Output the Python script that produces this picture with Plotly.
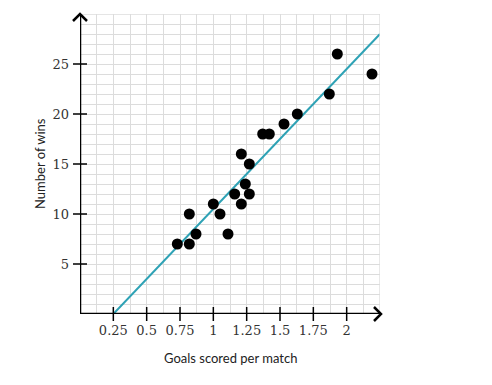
import numpy as np
import plotly.graph_objects as go

goals = [0.73, 0.82, 0.82, 0.87, 1.00, 1.05, 1.11, 1.16, 1.21, 1.24, 1.27, 1.27, 1.21,
         1.37, 1.42, 1.53, 1.63, 1.87, 1.93, 2.19]
wins = [7, 7, 10, 8, 11, 10, 8, 12, 11, 13, 12, 15, 16,
        18, 18, 19, 20, 22, 26, 24]
x_ticks = [0.25, 0.5, 0.75, 1, 1.25, 1.5, 1.75, 2]
x_tick_labels = ["0.25", "0.5", "0.75", "1", "1.25", "1.5", "1.75", "2"]
y_ticks = [5, 10, 15, 20, 25]
y_tick_labels = ["5", "10", "15", "20", "25"]
fit_slope = 14.0
fit_intercept = -3.5
fit_x_range = [0.25, 2.25]

X_MAX, Y_MAX = 2.25, 30
OFF = 8  # default page body margin
W, H = 492 - OFF, 385 - OFF
ML, MR, MT, MB = 80 - OFF, 112, 14 - OFF, 71

fx = np.array(fit_x_range)
fy = fit_slope * fx + fit_intercept

fig = go.Figure()
fig.add_trace(go.Scatter(x=fx, y=fy, mode="lines",
                         line=dict(color="#2ea2b5", width=2), hoverinfo="skip"))
fig.add_trace(go.Scatter(x=goals, y=wins, mode="markers",
                         marker=dict(color="black", size=11)))
# tick marks crossing axes
fig.add_trace(go.Scatter(x=x_ticks, y=[0]*len(x_ticks), mode="markers", cliponaxis=False,
                         marker=dict(symbol="line-ns", size=10, line=dict(color="black", width=1.5))))
fig.add_trace(go.Scatter(x=[0]*len(y_ticks), y=y_ticks, mode="markers", cliponaxis=False,
                         marker=dict(symbol="line-ew", size=10, line=dict(color="black", width=1.5))))

grid_col = "#dcdcdc"
fig.update_xaxes(range=[0, X_MAX], tickvals=x_ticks, ticktext=x_tick_labels,
                 showgrid=True, gridcolor=grid_col, gridwidth=1.3, zeroline=False,
                 showline=False, ticks="", ticklabelstandoff=7, automargin=False,
                 tickfont=dict(family="DejaVu Serif, serif", size=13, color="#333"),
                 minor=dict(tick0=0, dtick=0.125, showgrid=True, gridcolor=grid_col, gridwidth=1.3))
fig.update_yaxes(range=[0, Y_MAX], tickvals=y_ticks, ticktext=y_tick_labels,
                 showgrid=True, gridcolor=grid_col, gridwidth=1.3, zeroline=False,
                 showline=False, ticks="", ticklabelstandoff=10, automargin=False,
                 tickfont=dict(family="DejaVu Serif, serif", size=13, color="#333"),
                 minor=dict(tick0=0, dtick=1, showgrid=True, gridcolor=grid_col, gridwidth=1.3))

shapes = [
    dict(type="line", xref="x", yref="y", x0=0, x1=X_MAX, y0=Y_MAX, y1=Y_MAX, line=dict(color=grid_col, width=1.3)),
    dict(type="line", xref="x", yref="y", x0=X_MAX, x1=X_MAX, y0=0, y1=Y_MAX, line=dict(color=grid_col, width=1.3)),
    dict(type="line", xref="x", yref="y", x0=0, x1=X_MAX, y0=0, y1=0, line=dict(color="black", width=2.5)),
    dict(type="line", xref="x", yref="y", x0=0, x1=0, y0=0, y1=Y_MAX, line=dict(color="black", width=2.5)),
]
# arrowheads, specified in page pixels and converted to paper coords
pw, ph = W - ML - MR, H - MT - MB
def px(xp):
    return (xp - OFF - ML) / pw
def py(yp):
    return (H - MB - (yp - OFF)) / ph
shapes.append(dict(type="path", xref="paper", yref="paper",
                   path=f"M {px(374)} {py(307)} L {px(381)} {py(314)} L {px(374)} {py(321)}",
                   line=dict(color="black", width=2.5)))
shapes.append(dict(type="path", xref="paper", yref="paper",
                   path=f"M {px(73)} {py(21)} L {px(80)} {py(14)} L {px(87)} {py(21)}",
                   line=dict(color="black", width=2.5)))

annotations = [
    dict(text="Goals scored per match", xref="paper", yref="paper", x=px(230), y=py(358),
         showarrow=False, font=dict(family="Lato, sans-serif", size=13, color="#222"),
         xanchor="center", yanchor="middle"),
    dict(text="Number of wins", xref="paper", yref="paper", x=px(40), y=py(164),
         showarrow=False, textangle=-90, font=dict(family="Lato, sans-serif", size=13, color="#222"),
         xanchor="center", yanchor="middle"),
]

fig.update_layout(width=W, height=H, margin=dict(l=ML, r=MR, t=MT, b=MB),
                  plot_bgcolor="white", paper_bgcolor="white", showlegend=False,
                  shapes=shapes, annotations=annotations)
fig.write_html("out.html")
